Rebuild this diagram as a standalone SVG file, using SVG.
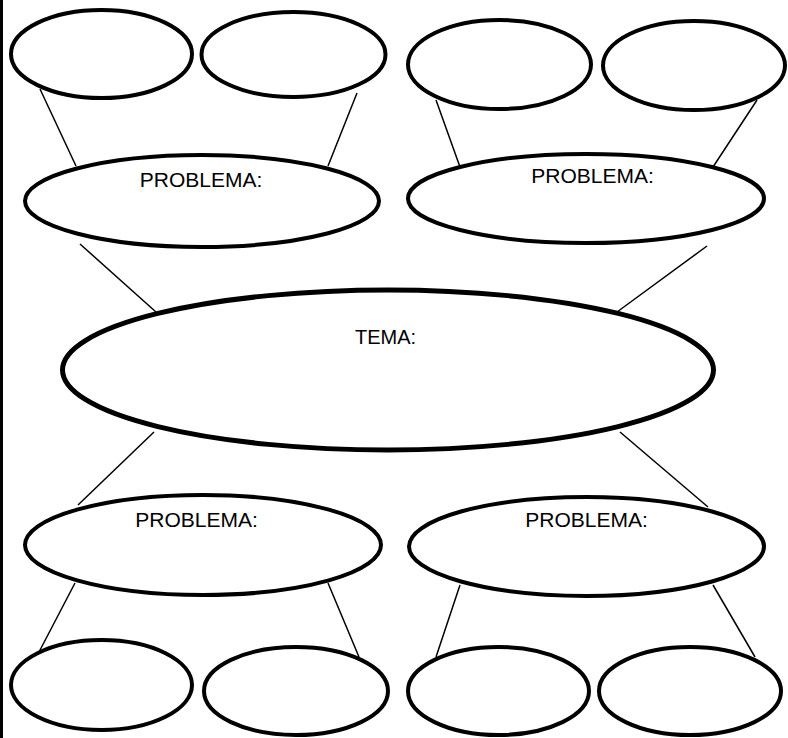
<svg xmlns="http://www.w3.org/2000/svg" width="788" height="738" viewBox="0 0 788 738">
<style>
.n{fill:#fff;stroke:#000;stroke-width:4}
.big{fill:#fff;stroke:#000;stroke-width:5}
.c line{stroke:#000;stroke-width:1.5}
text{font-family:"Liberation Sans",Arial,sans-serif;font-size:21px;fill:#000;text-anchor:middle}
</style>
<rect x="0" y="0" width="788" height="738" fill="#fff"/>
<rect x="0" y="0" width="3" height="738" fill="#000"/>
<g class="c" id="connectors">
<line x1="40" y1="89" x2="76" y2="166"/>
<line x1="357" y1="93" x2="328" y2="166"/>
<line x1="436" y1="100" x2="460" y2="167"/>
<line x1="757" y1="100" x2="713" y2="167"/>
<line x1="80" y1="244" x2="156" y2="312"/>
<line x1="707" y1="246" x2="617" y2="312"/>
<line x1="154" y1="432" x2="78" y2="505"/>
<line x1="620" y1="432" x2="708" y2="507"/>
<line x1="75" y1="583" x2="39" y2="652"/>
<line x1="328" y1="583" x2="359" y2="657"/>
<line x1="460" y1="585" x2="436" y2="657"/>
<line x1="713" y1="585" x2="755" y2="657"/>
</g>
<g id="tl1"><ellipse class="n" cx="101.5" cy="54" rx="90.5" ry="44"/></g>
<g id="tl2"><ellipse class="n" cx="293.5" cy="54.5" rx="92" ry="42.5"/></g>
<g id="tr1"><ellipse class="n" cx="499.5" cy="64.5" rx="91.5" ry="44.5"/></g>
<g id="tr2"><ellipse class="n" cx="694" cy="65.5" rx="91" ry="44.5"/></g>
<g id="probTL"><ellipse class="n" cx="202" cy="201" rx="177" ry="46"/><text x="201" y="187">PROBLEMA:</text></g>
<g id="probTR"><ellipse class="n" cx="586" cy="198.5" rx="178" ry="44.5"/><text x="592.5" y="183">PROBLEMA:</text></g>
<g id="tema"><ellipse class="big" cx="388" cy="370" rx="325.5" ry="80"/><text x="385.5" y="344" style="font-size:20px">TEMA:</text></g>
<g id="probBL"><ellipse class="n" cx="203" cy="545" rx="178" ry="50"/><text x="196.5" y="527">PROBLEMA:</text></g>
<g id="probBR"><ellipse class="n" cx="586.5" cy="546.5" rx="177.5" ry="49.5"/><text x="586.5" y="527">PROBLEMA:</text></g>
<g id="bl1"><ellipse class="n" cx="101.5" cy="685" rx="90.5" ry="45"/></g>
<g id="bl2"><ellipse class="n" cx="296" cy="691" rx="92" ry="44"/></g>
<g id="br1"><ellipse class="n" cx="498.5" cy="691" rx="90.5" ry="44"/></g>
<g id="br2"><ellipse class="n" cx="690" cy="691" rx="91" ry="44"/></g>
</svg>
